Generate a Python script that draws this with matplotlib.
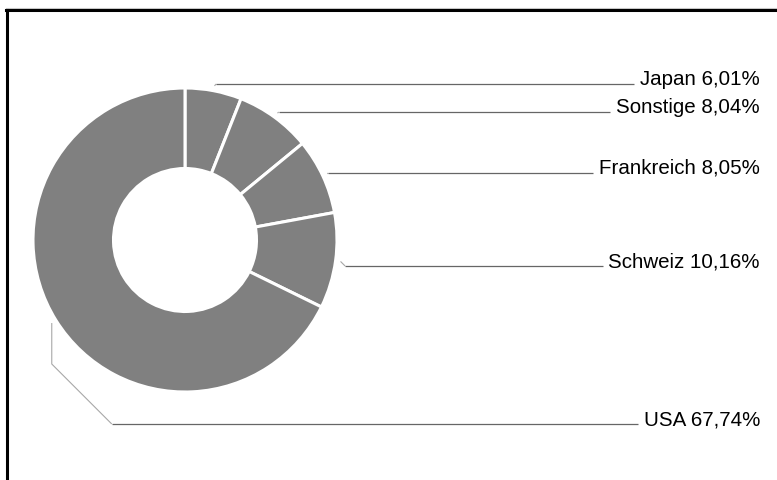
import numpy as np
import matplotlib
matplotlib.use("Agg")
import matplotlib.pyplot as plt

plt.rcParams["font.family"] = ["Liberation Sans", "DejaVu Sans"]

# data, clockwise from 12 o'clock
countries = ["Japan", "Sonstige", "Frankreich", "Schweiz", "USA"]
shares = [6.01, 8.04, 8.05, 10.16, 67.74]

# layout (pixels from top of the 777x480 canvas)
W, H = 777, 480
label_y = [84, 112, 173, 266, 424]
text_right = 760
cx, cy, r_out, r_in = 185, 240, 152, 71.5


def py(y):
    return H - y


fig = plt.figure(figsize=(W / 100, H / 100), dpi=100)
ax = fig.add_axes([0, 0, 1, 1])

wedges, _ = ax.pie(
    shares, startangle=90, counterclock=False, radius=r_out, center=(cx, py(cy)),
    colors=["#808080"] * len(shares),
    wedgeprops=dict(width=r_out - r_in, edgecolor="white", linewidth=2.2),
)
ax.set_xlim(0, W)
ax.set_ylim(0, H)
ax.set_aspect("auto")
ax.axis("off")

fig.canvas.draw()
renderer = fig.canvas.get_renderer()
for w, name, val, ly in zip(wedges, countries, shares, label_y):
    mid = np.deg2rad((w.theta1 + w.theta2) / 2)
    ax_x = cx + 157 * np.cos(mid)
    ax_y = py(cy) + 157 * np.sin(mid)
    ty = py(ly)
    d = min(abs(ty - ax_y), 60)
    drop_y = ty + d if ax_y > ty else ty - d
    txt = ax.text(text_right, ty - 1, f"{name} {val:.2f}%".replace(".", ","),
                  ha="right", va="baseline", fontsize=14.8, color="black")
    bb = txt.get_window_extent(renderer)
    x_end = bb.x0 - 6
    ax.plot([ax_x, ax_x, ax_x + d], [ax_y, drop_y, ty], color="#a8a8a8", lw=0.8,
            solid_capstyle="butt")
    ax.plot([ax_x + d, x_end], [ty, ty], color="#666666", lw=0.9,
            solid_capstyle="butt")

# frame: only top and left edges fall inside the picture
ax.plot([6, W], [py(8), py(8)], color="#cccccc", lw=0.8)
ax.plot([6, W], [py(10), py(10)], color="black", lw=2.2, solid_capstyle="projecting")
ax.plot([7, 7], [py(10), 0], color="black", lw=2.2, solid_capstyle="projecting")

fig.savefig("out.png", dpi=100)
